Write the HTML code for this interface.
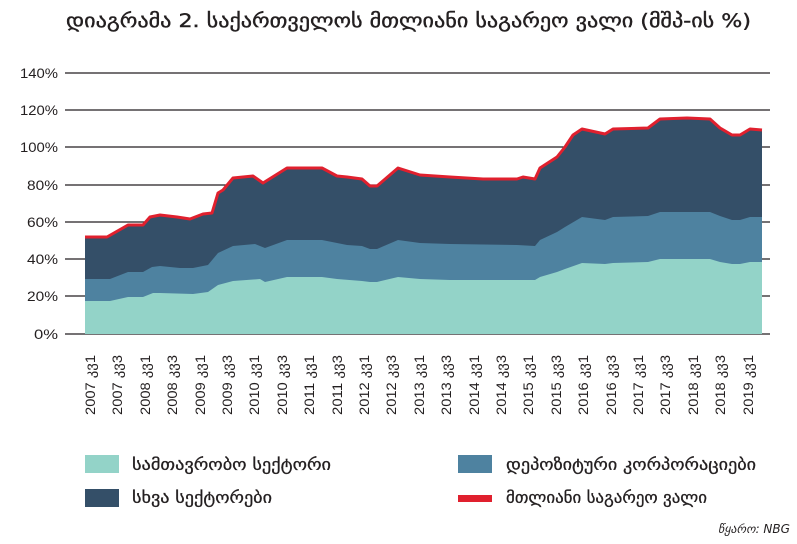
<!DOCTYPE html>
<html><head><meta charset="utf-8"><style>
html,body{margin:0;padding:0;background:#fff;}
svg{display:block;font-family:"Liberation Sans","DejaVu Sans",sans-serif;}
</style></head><body>
<svg width="797" height="544" viewBox="0 0 797 544" xmlns="http://www.w3.org/2000/svg">
<text x="66" y="27" font-size="19" fill="#231f20" stroke="#231f20" stroke-width="0.4" font-family="DejaVu Sans, sans-serif" textLength="685" lengthAdjust="spacingAndGlyphs">დიაგრამა 2. საქართველოს მთლიანი საგარეო ვალი (მშპ-ის %)</text>
<g stroke="#231f20" stroke-width="1.3">
<line x1="65" y1="73" x2="770" y2="73"/>
<line x1="65" y1="110" x2="770" y2="110"/>
<line x1="65" y1="147" x2="770" y2="147"/>
<line x1="65" y1="185" x2="770" y2="185"/>
<line x1="65" y1="222" x2="770" y2="222"/>
<line x1="65" y1="259" x2="770" y2="259"/>
<line x1="65" y1="296" x2="770" y2="296"/>
<line x1="65" y1="334" x2="770" y2="334"/>
</g>
<g font-size="14" fill="#231f20" text-anchor="end">
<text x="58" y="78" textLength="38" lengthAdjust="spacingAndGlyphs">140%</text>
<text x="58" y="115" textLength="38" lengthAdjust="spacingAndGlyphs">120%</text>
<text x="58" y="152" textLength="38" lengthAdjust="spacingAndGlyphs">100%</text>
<text x="58" y="190" textLength="31" lengthAdjust="spacingAndGlyphs">80%</text>
<text x="58" y="227" textLength="31" lengthAdjust="spacingAndGlyphs">60%</text>
<text x="58" y="264" textLength="31" lengthAdjust="spacingAndGlyphs">40%</text>
<text x="58" y="301" textLength="31" lengthAdjust="spacingAndGlyphs">20%</text>
<text x="58" y="339" textLength="24" lengthAdjust="spacingAndGlyphs">0%</text>
</g>
<polygon fill="#344f68" points="85,334 85,237 107,237 128,225 143,225 150,217 160,215 177,217 190,219 203,214 212,213 218,193 223,190 233,178 253,176 263,183 287,168 322,168 337,176 347,177 362,179 370,186 377,186 398,168 420,175 450,177 483,179 517,179 523,177 535,179 540,168 557,157 565,147 573,135 582,129 605,134 613,129 648,128 660,119 687,118 710,119 720,128 732,135 740,135 750,129 762,130 762,334"/>
<polygon fill="#4e82a0" points="85,334 85,279 110,279 128,272 143,272 152,267 160,266 180,268 193,268 203,266 208,265 218,253 233,246 255,244 265,248 287,240 322,240 337,243 347,245 362,246 370,249 377,249 398,240 420,243 450,244 517,245 535,246 540,240 557,232 565,227 582,217 605,220 613,217 648,216 660,212 710,212 720,216 732,220 740,220 750,217 762,217 762,334"/>
<polygon fill="#93d3c8" points="85,334 85,301 110,301 128,297 143,297 153,293 160,293 193,294 208,292 218,285 233,281 260,279 265,282 287,277 322,277 337,279 362,281 370,282 377,282 398,277 420,279 450,280 535,280 540,277 557,272 565,269 582,263 605,264 613,263 648,262 660,259 710,259 720,262 732,264 740,264 750,262 762,262 762,334"/>
<polyline fill="none" stroke="#e0202e" stroke-width="3" stroke-linejoin="round" points="85,237 107,237 128,225 143,225 150,217 160,215 177,217 190,219 203,214 212,213 218,193 223,190 233,178 253,176 263,183 287,168 322,168 337,176 347,177 362,179 370,186 377,186 398,168 420,175 450,177 483,179 517,179 523,177 535,179 540,168 557,157 565,147 573,135 582,129 605,134 613,129 648,128 660,119 687,118 710,119 720,128 732,135 740,135 750,129 762,130"/>
<g font-size="13.5" fill="#231f20" font-family="Liberation Sans, DejaVu Sans, sans-serif" text-anchor="end">
<text transform="translate(95,355) rotate(-90)" textLength="60" lengthAdjust="spacingAndGlyphs">2007 კვ1</text>
<text transform="translate(122,355) rotate(-90)" textLength="60" lengthAdjust="spacingAndGlyphs">2007 კვ3</text>
<text transform="translate(150,355) rotate(-90)" textLength="60" lengthAdjust="spacingAndGlyphs">2008 კვ1</text>
<text transform="translate(177,355) rotate(-90)" textLength="60" lengthAdjust="spacingAndGlyphs">2008 კვ3</text>
<text transform="translate(205,355) rotate(-90)" textLength="60" lengthAdjust="spacingAndGlyphs">2009 კვ1</text>
<text transform="translate(232,355) rotate(-90)" textLength="60" lengthAdjust="spacingAndGlyphs">2009 კვ3</text>
<text transform="translate(259,355) rotate(-90)" textLength="60" lengthAdjust="spacingAndGlyphs">2010 კვ1</text>
<text transform="translate(287,355) rotate(-90)" textLength="60" lengthAdjust="spacingAndGlyphs">2010 კვ3</text>
<text transform="translate(314,355) rotate(-90)" textLength="60" lengthAdjust="spacingAndGlyphs">2011 კვ1</text>
<text transform="translate(342,355) rotate(-90)" textLength="60" lengthAdjust="spacingAndGlyphs">2011 კვ3</text>
<text transform="translate(369,355) rotate(-90)" textLength="60" lengthAdjust="spacingAndGlyphs">2012 კვ1</text>
<text transform="translate(396,355) rotate(-90)" textLength="60" lengthAdjust="spacingAndGlyphs">2012 კვ3</text>
<text transform="translate(424,355) rotate(-90)" textLength="60" lengthAdjust="spacingAndGlyphs">2013 კვ1</text>
<text transform="translate(451,355) rotate(-90)" textLength="60" lengthAdjust="spacingAndGlyphs">2013 კვ3</text>
<text transform="translate(479,355) rotate(-90)" textLength="60" lengthAdjust="spacingAndGlyphs">2014 კვ1</text>
<text transform="translate(506,355) rotate(-90)" textLength="60" lengthAdjust="spacingAndGlyphs">2014 კვ3</text>
<text transform="translate(533,355) rotate(-90)" textLength="60" lengthAdjust="spacingAndGlyphs">2015 კვ1</text>
<text transform="translate(561,355) rotate(-90)" textLength="60" lengthAdjust="spacingAndGlyphs">2015 კვ3</text>
<text transform="translate(588,355) rotate(-90)" textLength="60" lengthAdjust="spacingAndGlyphs">2016 კვ1</text>
<text transform="translate(616,355) rotate(-90)" textLength="60" lengthAdjust="spacingAndGlyphs">2016 კვ3</text>
<text transform="translate(643,355) rotate(-90)" textLength="60" lengthAdjust="spacingAndGlyphs">2017 კვ1</text>
<text transform="translate(670,355) rotate(-90)" textLength="60" lengthAdjust="spacingAndGlyphs">2017 კვ3</text>
<text transform="translate(698,355) rotate(-90)" textLength="60" lengthAdjust="spacingAndGlyphs">2018 კვ1</text>
<text transform="translate(725,355) rotate(-90)" textLength="60" lengthAdjust="spacingAndGlyphs">2018 კვ3</text>
<text transform="translate(753,355) rotate(-90)" textLength="60" lengthAdjust="spacingAndGlyphs">2019 კვ1</text>
</g>
<rect x="85" y="455" width="34" height="18" fill="#93d3c8"/>
<rect x="85" y="489" width="34" height="18" fill="#344f68"/>
<rect x="458" y="455" width="34" height="18" fill="#4e82a0"/>
<rect x="458" y="495" width="34" height="7" fill="#e0202e"/>
<g font-size="16" fill="#231f20" stroke="#231f20" stroke-width="0.3" font-family="DejaVu Sans, sans-serif">
<text x="132" y="470" textLength="199" lengthAdjust="spacingAndGlyphs">სამთავრობო სექტორი</text>
<text x="132" y="503" textLength="140" lengthAdjust="spacingAndGlyphs">სხვა სექტორები</text>
<text x="506" y="470" textLength="250" lengthAdjust="spacingAndGlyphs">დეპოზიტური კორპორაციები</text>
<text x="506" y="503" textLength="201" lengthAdjust="spacingAndGlyphs">მთლიანი საგარეო ვალი</text>
</g>
<text x="790" y="533" font-size="12" font-style="italic" fill="#231f20" text-anchor="end" font-family="DejaVu Sans, sans-serif" textLength="72" lengthAdjust="spacingAndGlyphs">წყარო: NBG</text>
</svg>
</body></html>
